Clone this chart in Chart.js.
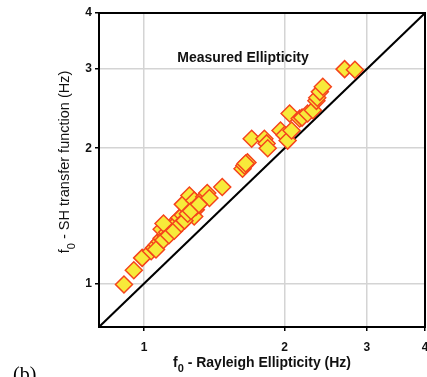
<!DOCTYPE html>
<html>
<head>
<meta charset="utf-8">
<script src="https://cdn.jsdelivr.net/npm/chart.js@4"></script>
<style>
  html, body { margin: 0; padding: 0; background: #fff; }
  canvas { display: block; }
</style>
</head>
<body>
<canvas id="chart" width="427" height="377"></canvas>
<script>
// f0 picked from Rayleigh-wave ellipticity vs f0 from SH transfer function (Hz)
const rayleighF0 = [
  0.905, 0.95, 0.99, 1.035, 1.05, 1.065, 1.08, 1.09, 1.11, 1.09,
  1.12, 1.14, 1.15, 1.17, 1.18, 1.19, 1.21, 1.21, 1.25, 1.28,
  1.29, 1.345, 1.365, 1.38, 1.47, 1.625, 1.64, 1.665, 1.65, 1.70,
  1.81, 1.83, 1.84, 1.96, 2.0, 2.03, 2.07, 2.05, 2.155, 2.18,
  2.24, 2.30, 2.34, 2.35, 2.38, 2.415, 2.69, 2.83, 1.10, 1.28,
  1.29, 1.06, 1.10, 1.13, 1.16, 1.20, 1.22, 1.24, 1.26, 1.31
];
const shF0 = [
  0.995, 1.07, 1.14, 1.18, 1.20, 1.22, 1.24, 1.26, 1.28, 1.32,
  1.30, 1.33, 1.35, 1.33, 1.37, 1.40, 1.42, 1.50, 1.57, 1.53,
  1.46, 1.56, 1.59, 1.55, 1.64, 1.80, 1.83, 1.86, 1.85, 2.10,
  2.10, 2.05, 2.00, 2.19, 2.14, 2.08, 2.19, 2.39, 2.33, 2.34,
  2.39, 2.43, 2.55, 2.59, 2.67, 2.74, 3.00, 2.99, 1.36, 1.41,
  1.48, 1.19, 1.25, 1.28, 1.31, 1.36, 1.38, 1.43, 1.45, 1.50
];
const tickValues = [1, 2, 3, 4];
const axisMin = 0.8;
const axisMax = 4;

const points = rayleighF0.map((x, i) => ({ x: x, y: shF0[i] }));
const oneToOne = [{ x: axisMin, y: axisMin }, { x: axisMax, y: axisMax }];

const SANS = '"Liberation Sans", Arial, Helvetica, sans-serif';

// draws "f" + subscript 0 + rest, centred on (cx, cy)
function drawF0Text(ctx, rest, cx, cy, size, weight) {
  const big = `${weight} ${size}px ${SANS}`;
  const small = `${weight} ${Math.round(size * 0.75)}px ${SANS}`;
  ctx.font = big;
  const wf = ctx.measureText("f").width;
  const wr = ctx.measureText(rest).width;
  ctx.font = small;
  const w0 = ctx.measureText("0").width;
  let x = cx - (wf + w0 + wr) / 2;
  ctx.textAlign = "left";
  ctx.textBaseline = "middle";
  ctx.font = big;
  ctx.fillText("f", x, cy);
  x += wf;
  ctx.font = small;
  ctx.fillText("0", x, cy + size * 0.45);
  x += w0;
  ctx.font = big;
  ctx.fillText(rest, x, cy);
}

const labelsPlugin = {
  id: "labels",
  afterDraw(chart) {
    const ctx = chart.ctx;
    const area = chart.chartArea;
    ctx.save();

    // frame around the plot
    ctx.strokeStyle = "#000";
    ctx.lineWidth = 2;
    ctx.strokeRect(area.left, area.top, area.right - area.left, area.bottom - area.top);

    ctx.fillStyle = "#111";
    ctx.font = `bold 14px ${SANS}`;
    ctx.textAlign = "center";
    ctx.textBaseline = "middle";
    ctx.fillText("Measured Ellipticity", 243, 58);

    drawF0Text(ctx, " - Rayleigh Ellipticity (Hz)", 262, 363, 14, "bold");

    ctx.save();
    ctx.translate(65, 162);
    ctx.rotate(-Math.PI / 2);
    drawF0Text(ctx, " - SH transfer function (Hz)", 0, 0, 14.5, "normal");
    ctx.restore();

    ctx.fillStyle = "#000";
    ctx.font = '20px "Liberation Serif", "Times New Roman", serif';
    ctx.textAlign = "left";
    ctx.textBaseline = "alphabetic";
    ctx.fillText("(b)", 13, 381);

    ctx.restore();
  }
};

const logAxis = (afterFit) => ({
  type: "logarithmic",
  min: axisMin,
  max: axisMax,
  afterBuildTicks: (scale) => {
    scale.ticks = tickValues.map(v => ({ value: v }));
  },
  afterFit: afterFit,
  ticks: {
    color: "#111",
    padding: 3,
    autoSkip: false,
    font: { family: SANS, size: 12, weight: "bold" },
    callback: (v) => String(v)
  },
  grid: {
    color: "#d4d4d4",
    lineWidth: 1.5,
    tickColor: "#000",
    tickLength: 4,
    drawTicks: true
  },
  border: { display: false }
});

// fixed axis sizes, no extra room for the outer tick labels
const xAxis = logAxis((scale) => {
  scale.height = 50;
  scale.paddingLeft = 0;
  scale.paddingRight = 0;
});
xAxis.ticks.padding = 9;
const yAxis = logAxis((scale) => {
  scale.width = 99;
  scale.paddingTop = 0;
  scale.paddingBottom = 0;
});

new Chart(document.getElementById("chart"), {
  type: "scatter",
  data: {
    datasets: [
      {
        label: "f0",
        data: points,
        pointStyle: "rectRot",
        pointRadius: 8.5,
        pointHoverRadius: 8.5,
        pointBackgroundColor: "#f7ea3a",
        pointBorderColor: "#f5441c",
        pointBorderWidth: 1.5,
        clip: false
      },
      {
        type: "line",
        label: "1:1",
        data: oneToOne,
        borderColor: "#000",
        borderWidth: 2,
        pointRadius: 0,
        fill: false
      }
    ]
  },
  options: {
    responsive: false,
    animation: false,
    layout: {
      autoPadding: false,
      padding: { left: 0, right: 2, top: 13, bottom: 0 }
    },
    plugins: {
      legend: { display: false },
      tooltip: { enabled: false }
    },
    scales: { x: xAxis, y: yAxis }
  },
  plugins: [labelsPlugin]
});
</script>
</body>
</html>
